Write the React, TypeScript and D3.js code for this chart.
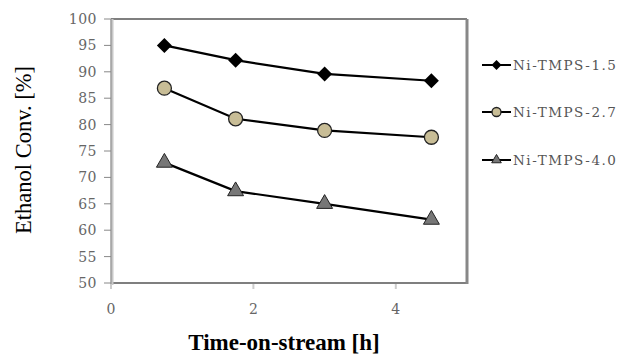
import React from "react";
import * as d3 from "d3";

const times = [0.75, 1.75, 3, 4.5];
const s15 = [95, 92.2, 89.6, 88.3];
const s27 = [86.9, 81.1, 78.9, 77.6];
const s40 = [72.8, 67.4, 65.0, 62.0];
const seriesNames = ["Ni-TMPS-1.5", "Ni-TMPS-2.7", "Ni-TMPS-4.0"];
const yTicks = [50, 55, 60, 65, 70, 75, 80, 85, 90, 95, 100];
const xTicks = [0, 2, 4];

export default function App() {
  const W = 620, H = 356;
  const L = 111, R = 467, T = 19, B = 283;
  const x = d3.scaleLinear().domain([0, 5]).range([L, R]);
  const y = d3.scaleLinear().domain([50, 100]).range([B, T]);
  const line = d3.line<number>().x((_, i) => x(times[i])).y((d) => y(d));
  const all = [s15, s27, s40];
  const tri = d3.symbol().type(d3.symbolTriangle).size(110)();
  const triSmall = d3.symbol().type(d3.symbolTriangle).size(40)();
  const diamond = (cx: number, cy: number, r: number) =>
    `M${cx},${cy - r}L${cx + r},${cy}L${cx},${cy + r}L${cx - r},${cy}Z`;
  const marker = (k: number, cx: number, cy: number, small: boolean) => {
    if (k === 0) return <path d={diamond(cx, cy, small ? 5 : 7.5)} fill="#000" />;
    if (k === 1)
      return <circle cx={cx} cy={cy} r={small ? 4.5 : 7} fill="#c8bd96" stroke="#222" strokeWidth={1.3} />;
    return (
      <path d={small ? triSmall : tri} transform={`translate(${cx},${cy})`} fill="#777" stroke="#222" strokeWidth={1} />
    );
  };
  const legY = [65, 112, 160];
  const tickFont = "'DejaVu Serif', serif";
  return (
    <svg width={W} height={H} style={{ position: "absolute", left: 0, top: 0 }} fontFamily="'Liberation Serif', serif">
      <rect width={W} height={H} fill="#fff" />
      {/* frame */}
      <line x1={L} x2={R} y1={T} y2={T} stroke="#000" strokeWidth={1.2} />
      <line x1={L} x2={R} y1={B} y2={B} stroke="#000" strokeWidth={1.2} />
      <line x1={R} x2={R} y1={T} y2={B + 1} stroke="#888" strokeWidth={3} />
      <line x1={L + 1} x2={L + 1} y1={T} y2={B + 2} stroke="#c8c8c8" strokeWidth={3} />
      <line x1={L} x2={L} y1={T} y2={B + 2} stroke="#888" strokeWidth={1} />
      {yTicks.map((t) => (
        <g key={t}>
          <line x1={L - 7} x2={L} y1={y(t)} y2={y(t)} stroke="#888" strokeWidth={1} />
          <text x={L - 14} y={y(t)} dy="0.36em" textAnchor="end" fontSize={14} fill="#666" fontFamily={tickFont} letterSpacing={0.5}>
            {t}
          </text>
        </g>
      ))}
      {xTicks.map((t) => (
        <g key={t}>
          <line x1={x(t)} x2={x(t)} y1={B + 1} y2={B + 6} stroke="#ccc" strokeWidth={2} />
          <text x={x(t)} y={B + 31} textAnchor="middle" fontSize={14} fill="#666" fontFamily={tickFont}>
            {t}
          </text>
        </g>
      ))}
      {all.map((s, k) => (
        <g key={k}>
          <path d={line(s) || ""} fill="none" stroke="#000" strokeWidth={2.2} />
          {s.map((v, i) => (
            <g key={i}>{marker(k, x(times[i]), y(v), false)}</g>
          ))}
        </g>
      ))}
      {seriesNames.map((n, k) => (
        <g key={n}>
          <line x1={482} x2={511} y1={legY[k]} y2={legY[k]} stroke="#000" strokeWidth={2} />
          {marker(k, 496.5, legY[k], true)}
          <text x={513} y={legY[k]} dy="0.36em" fontSize={13.5} fill="#555" fontFamily={tickFont} letterSpacing={1.5}>
            {n}
          </text>
        </g>
      ))}
      <text
        transform={`translate(31,150) rotate(-90)`}
        textAnchor="middle"
        fontSize={22.5}
        fill="#000"
      >
        Ethanol Conv. [%]
      </text>
      <text x={284} y={350} textAnchor="middle" fontSize={23} fontWeight="bold" fill="#000">
        Time-on-stream [h]
      </text>
    </svg>
  );
}
